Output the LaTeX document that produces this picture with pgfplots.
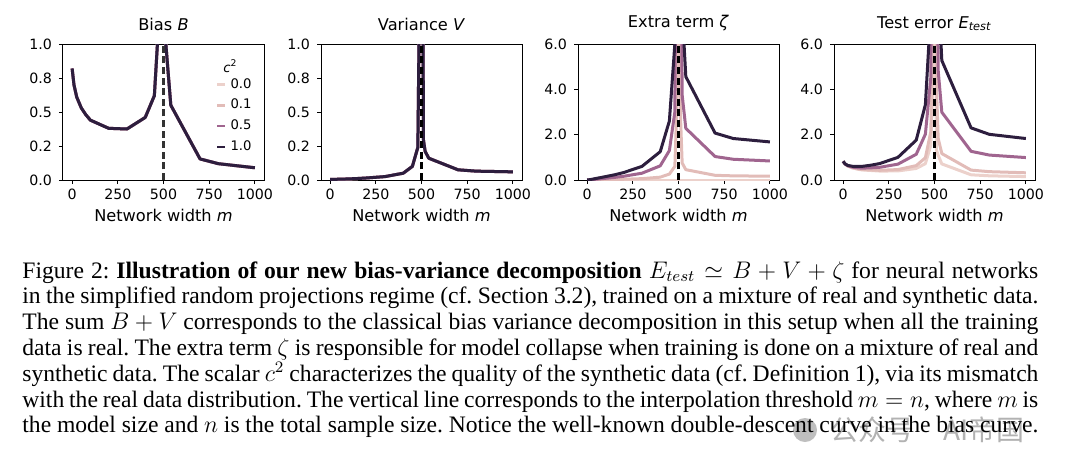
\documentclass[border=0pt]{standalone}
\usepackage{fontspec}
\setmainfont{Liberation Serif}
\newfontfamily\dejavu{DejaVu Sans}
\newfontfamily\cjk{Noto Sans CJK SC}
\usepackage{pgfplots}
\pgfplotsset{compat=1.18}
\usepackage{pgfplotstable}

\definecolor{cz}{HTML}{ECD1CB}
\definecolor{ca}{HTML}{E2BCB8}
\definecolor{cb}{HTML}{A0658F}
\definecolor{cc}{HTML}{2D1E3E}

% B, V, zeta for each c^2, and test error E = B + V + zeta
\pgfplotstableread{
m    B     V     Z0 Z01   Z05   Z1   E0    E01   E05   E1
0    0.82  0.005 0  0     0     0    0.825 0.825 0.825 0.825
10   0.70  0.005 0  0.001 0.005 0.01 0.705 0.706 0.710 0.715
25   0.61  0.005 0  0.003 0.015 0.03 0.615 0.618 0.630 0.645
50   0.53  0.006 0  0.007 0.035 0.07 0.536 0.543 0.571 0.606
75   0.48  0.007 0  0.011 0.055 0.11 0.487 0.498 0.542 0.597
100  0.44  0.008 0  0.015 0.075 0.15 0.448 0.463 0.523 0.598
150  0.41  0.011 0  0.023 0.115 0.23 0.421 0.444 0.536 0.651
200  0.38  0.015 0  0.033 0.165 0.33 0.395 0.428 0.560 0.725
300  0.375 0.025 0  0.060 0.300 0.60 0.400 0.460 0.700 1.000
400  0.46  0.050 0  0.125 0.625 1.25 0.510 0.635 1.135 1.760
450  0.62  0.100 0  0.260 1.300 2.60 0.720 0.980 2.020 3.320
480  1.30  0.240 0  0.600 3.000 6.00 1.540 2.140 4.540 7.540
490  2.50  1.500 0  3.0   15    30   4.000 7.000 19.00 34.00
495  6     5     0  10    50    100  11    21    61    111
505  6     5     0  10    50    100  11    21    61    111
510  1.05  0.30  0  3.0   15    30   1.350 4.350 16.35 31.35
520  0.88  0.21  0  0.75  3.75  7.5  1.090 1.840 4.840 8.590
540  0.55  0.16  0  0.456 2.28  4.56 0.710 1.166 2.990 5.270
700  0.155 0.075 0  0.207 1.035 2.07 0.230 0.437 1.265 2.300
800  0.12  0.065 0  0.183 0.915 1.83 0.185 0.368 1.100 2.015
1000 0.09  0.06  0  0.168 0.84  1.68 0.150 0.318 0.990 1.830
}\data

\pgfplotsset{
  panel/.style={
    anchor=south west, scale only axis,
    width=100.5pt, height=68pt,
    xmin=-50, xmax=1050,
    xtick={0,250,500,750,1000}, xticklabels={0,250,500,750,1000},
    xlabel={Network width \textit{m}},
    tick align=outside, tick pos=left,
    major tick length=2pt,
    every tick/.style={black, line width=0.4pt},
    axis line style={black, line width=0.5pt},
    ticklabel style={font=\dejavu\fontsize{7.1}{8}\selectfont},
    xlabel style={font=\dejavu\fontsize{8.1}{9}\selectfont, yshift=2pt},
    title style={font=\dejavu\fontsize{8.1}{9}\selectfont, yshift=-3pt},
    xticklabel style={yshift=1pt},
  },
  unit/.style={ymin=0, ymax=1, ytick={0,0.25,0.5,0.75,1},
    yticklabels={0.0,0.2,0.5,0.8,1.0}},
  six/.style={ymin=0, ymax=6, ytick={0,2,4,6},
    yticklabels={0.0,2.0,4.0,6.0}},
  curve/.style={line width=1.5pt, line join=round},
  thresh/.style={black, line width=1.1pt, dash pattern=on 3.5pt off 1.8pt},
}

\begin{document}
\begin{tikzpicture}
\path[use as bounding box] (0,0) rectangle (540pt,236.5pt);

% Bias
\begin{axis}[panel, unit, at={(31.5pt,146.5pt)}, title={Bias \textit{B}},
  legend style={draw=none, fill=none, at={(0.99,0.81)}, anchor=north east,
    font=\dejavu\fontsize{6.6}{7.5}\selectfont, row sep=0pt,
    nodes={inner ysep=2pt}},
  legend cell align=left,
  legend image code/.code={\draw[#1, line width=1.2pt] (0pt,0pt) -- (4pt,0pt);}]
  \addplot[curve, cz] table[x=m, y=B] {\data}; \addlegendentry{0.0}
  \addplot[curve, ca] table[x=m, y=B] {\data}; \addlegendentry{0.1}
  \addplot[curve, cb] table[x=m, y=B] {\data}; \addlegendentry{0.5}
  \addplot[curve, cc] table[x=m, y=B] {\data}; \addlegendentry{1.0}
  \addplot[thresh, black!80, forget plot] coordinates {(500,0) (500,1)};
  \node[font=\dejavu\fontsize{6.6}{7.5}\selectfont, inner sep=0pt]
    at (axis description cs:0.833,0.84) {\textit{c}\textsuperscript{2}};
\end{axis}

% Variance
\begin{axis}[panel, unit, at={(160.5pt,146.5pt)}, title={Variance \textit{V}}]
  \addplot[curve, cz] table[x=m, y=V] {\data};
  \addplot[curve, ca] table[x=m, y=V] {\data};
  \addplot[curve, cb] table[x=m, y=V] {\data};
  \addplot[curve, cc] table[x=m, y=V] {\data};
  \addplot[thresh] coordinates {(500,0) (500,1)};
\end{axis}

% Extra term
\begin{axis}[panel, six, at={(289pt,146.5pt)}, title={Extra term \textit{ζ}}]
  \addplot[curve, cz] table[x=m, y=Z0] {\data};
  \addplot[curve, ca] table[x=m, y=Z01] {\data};
  \addplot[curve, cb] table[x=m, y=Z05] {\data};
  \addplot[curve, cc] table[x=m, y=Z1] {\data};
  \addplot[thresh] coordinates {(500,0) (500,6)};
\end{axis}

% Test error
\begin{axis}[panel, six, at={(417pt,146.5pt)},
  title={Test error \textit{E}\textsubscript{\textit{test}}}]
  \addplot[curve, cz] table[x=m, y=E0] {\data};
  \addplot[curve, ca] table[x=m, y=E01] {\data};
  \addplot[curve, cb] table[x=m, y=E05] {\data};
  \addplot[curve, cc] table[x=m, y=E1] {\data};
  \addplot[thresh] coordinates {(500,0) (500,6)};
\end{axis}

% caption
\node[anchor=base west, inner sep=0pt] at (11pt,97.5pt) {\parbox[t]{508pt}{%
\fontsize{11.8}{12.9}\selectfont\frenchspacing
\makebox[508pt][s]{Figure 2: \textbf{Illustration of our new bias-variance decomposition} $E_{test} \simeq B + V + \zeta$ for neural networks}\\
\makebox[508pt][s]{in the simplified random projections regime (cf. Section 3.2), trained on a mixture of real and synthetic data.}\\
\makebox[508pt][s]{The sum $B+V$ corresponds to the classical bias variance decomposition in this setup when all the training}\\
\makebox[508pt][s]{data is real. The extra term $\zeta$ is responsible for model collapse when training is done on a mixture of real and}\\
\makebox[508pt][s]{synthetic data. The scalar $c^2$ characterizes the quality of the synthetic data (cf. Definition 1), via its mismatch}\\
\makebox[508pt][s]{with the real data distribution. The vertical line corresponds to the interpolation threshold $m=n$, where $m$ is}\\
the model size and $n$ is the total sample size. Notice the well-known double-descent curve in the bias curve.}};

% watermark
\fill[black, opacity=0.25] (402.5pt,21.5pt) circle (6pt);
\node[anchor=west, inner sep=0pt, font=\cjk\fontsize{14}{14}\selectfont, text=black, opacity=0.3]
  at (415pt,21.5pt) {公众号};
\node[anchor=west, inner sep=0pt, font=\cjk\fontsize{14}{14}\selectfont, text=black, opacity=0.3]
  at (471.5pt,21.5pt) {AI帝国};
\end{tikzpicture}
\end{document}
